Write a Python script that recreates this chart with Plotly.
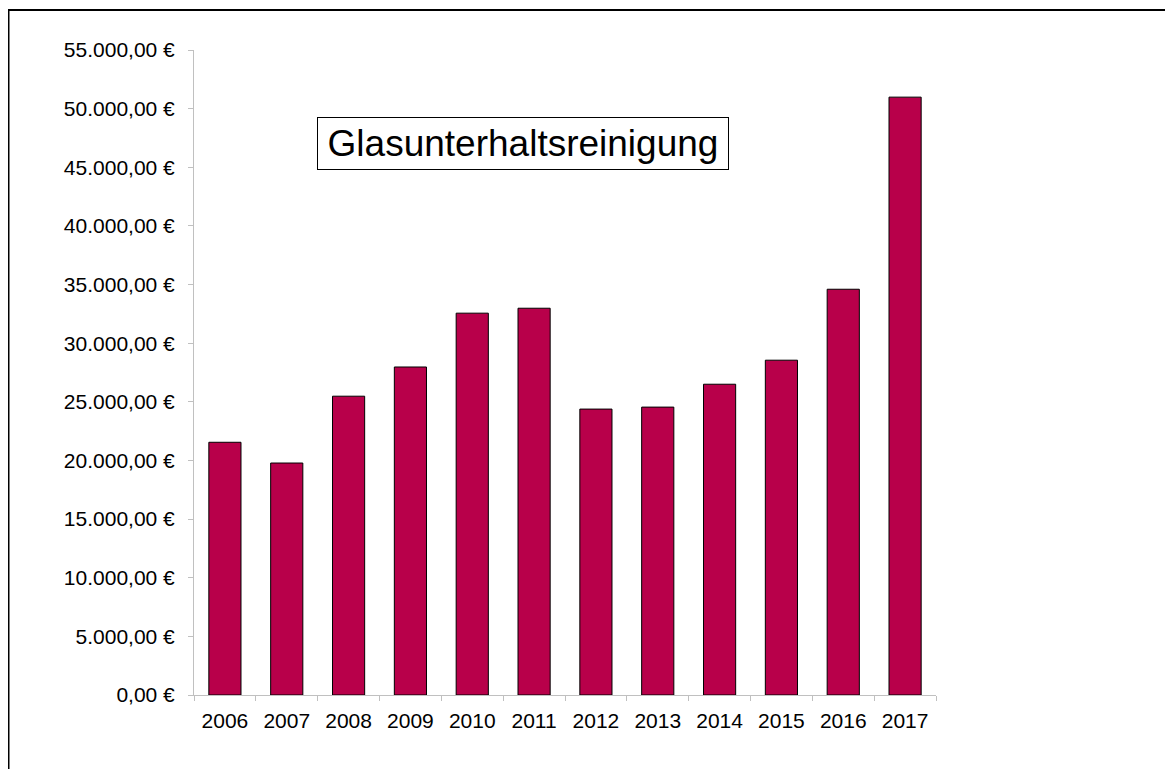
import plotly.graph_objects as go

years = ["2006", "2007", "2008", "2009", "2010", "2011", "2012", "2013", "2014", "2015", "2016", "2017"]
costs = [21550, 19780, 25480, 27970, 32560, 32980, 24380, 24550, 26500, 28550, 34600, 50980]
tick_vals = [0, 5000, 10000, 15000, 20000, 25000, 30000, 35000, 40000, 45000, 50000, 55000]
tick_text = ["0,00 €", "5.000,00 €", "10.000,00 €", "15.000,00 €", "20.000,00 €", "25.000,00 €",
             "30.000,00 €", "35.000,00 €", "40.000,00 €", "45.000,00 €", "50.000,00 €", "55.000,00 €"]
title_text = "Glasunterhaltsreinigung"

# the page body has an 8px margin; figure is sized/offset to compensate
OFF = 8
W, H = 1173 - OFF, 769 - OFF
ml, mt = 194 - OFF, 50 - OFF
pw, ph = 742, 645
mr, mb = W - ml - pw, H - mt - ph

def px_x(xs):
    return (xs - OFF - ml) / pw

def px_y(ys):
    return (H - mb - (ys - OFF)) / ph

fig = go.Figure()
fig.add_trace(go.Bar(
    x=years, y=costs,
    marker=dict(color="#B8004A", line=dict(color="black", width=1)),
    width=0.52,
))

fig.update_layout(
    width=W, height=H,
    margin=dict(l=ml, r=mr, t=mt, b=mb),
    paper_bgcolor="white", plot_bgcolor="white",
    showlegend=False,
    font=dict(family="Liberation Sans, Arial, sans-serif", size=21, color="black"),
    xaxis=dict(
        showline=True, linecolor="#C0C0C0", linewidth=1,
        ticks="outside", tickson="boundaries", ticklen=5, tickcolor="#C0C0C0",
        showgrid=False, tickfont=dict(size=21), ticklabelstandoff=7,
    ),
    yaxis=dict(
        range=[0, 55000], tickvals=tick_vals, ticktext=tick_text,
        showline=True, linecolor="#C0C0C0", linewidth=1,
        ticks="outside", ticklen=5, tickcolor="#C0C0C0",
        showgrid=False, zeroline=False, tickfont=dict(size=21), ticklabelstandoff=9,
    ),
)

# Title box
fig.add_annotation(
    xref="paper", yref="paper",
    x=px_x(522.5), y=px_y(143.5),
    text=title_text, showarrow=False,
    font=dict(size=37, color="black"),
    width=404, height=45,
    bordercolor="black", borderwidth=1, borderpad=3,
    bgcolor="white", xanchor="center", yanchor="middle",
)

# Outer frame (top and left edges visible)
fig.add_shape(
    type="rect", xref="paper", yref="paper",
    x0=px_x(8.5), x1=px_x(1200), y0=px_y(10), y1=px_y(820),
    line=dict(color="black", width=2), layer="below",
)

fig.write_html("out.html")
